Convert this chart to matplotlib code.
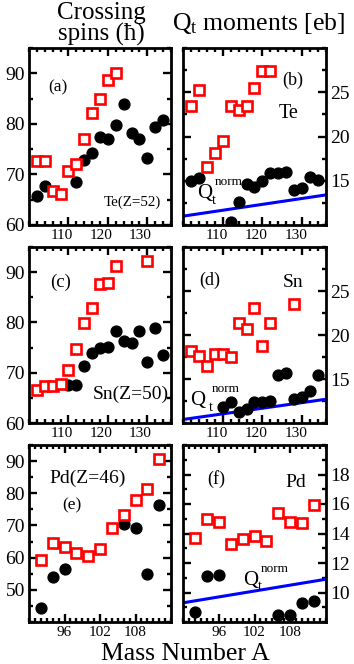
import numpy as np
import matplotlib
matplotlib.use("Agg")
import matplotlib.pyplot as plt
from matplotlib.ticker import MultipleLocator, FixedLocator
from matplotlib.transforms import ScaledTranslation

plt.rcParams['font.family'] = ['Liberation Serif', 'DejaVu Serif']
plt.rcParams['mathtext.fontset'] = 'custom'
plt.rcParams['mathtext.rm'] = 'Liberation Serif'
plt.rcParams['mathtext.it'] = 'Liberation Serif:italic'

# ---- Te (Z=52) ----
te_cross_A_circ = [102, 104, 112, 114, 116, 118, 120, 122, 124, 126, 128, 130, 132, 134]
te_cross_circ = [65.7, 67.8, 68.6, 72.9, 74.3, 77.4, 77.0, 79.8, 83.9, 78.2, 77.0, 73.2, 79.3, 80.8]
te_cross_A_sq = [102, 104, 106, 108, 110, 112, 114, 116, 118, 120, 122]
te_cross_sq = [72.7, 72.7, 66.8, 66.1, 70.7, 72.0, 77.0, 82.1, 84.9, 88.7, 90.0]

te_q_A_circ = [102, 104, 112, 114, 116, 118, 120, 122, 124, 126, 128, 130, 132, 134]
te_q_circ = [15.0, 15.3, 10.3, 12.6, 14.6, 14.3, 15.0, 15.9, 15.9, 16.0, 13.9, 14.2, 15.4, 15.1]
te_q_A_sq = [102, 104, 106, 108, 110, 112, 114, 116, 118, 120, 122]
te_q_sq = [23.4, 25.2, 16.6, 18.1, 19.5, 23.4, 23.0, 23.4, 25.5, 27.4, 27.4]
te_qnorm_A = [100, 136]
te_qnorm = [11.0, 13.4]

# ---- Sn (Z=50) ----
sn_cross_A_circ = [110, 112, 114, 116, 118, 120, 122, 124, 126, 128, 130, 132, 134]
sn_cross_circ = [67.6, 67.6, 71.4, 73.9, 74.9, 75.2, 78.3, 76.3, 75.9, 78.3, 72.2, 78.8, 73.6]
sn_cross_A_sq = [102, 104, 106, 108, 110, 112, 114, 116, 118, 120, 122, 130]
sn_cross_sq = [66.5, 67.3, 67.3, 67.8, 70.5, 74.7, 79.8, 82.8, 87.6, 87.8, 91.2, 92.2]

sn_q_A_circ = [110, 112, 114, 116, 118, 120, 122, 124, 126, 128, 130, 132, 134]
sn_q_circ = [11.8, 12.4, 11.3, 11.6, 12.4, 12.4, 12.5, 15.4, 15.7, 12.7, 13.0, 13.6, 15.4]
sn_q_A_sq = [102, 104, 106, 108, 110, 112, 114, 116, 118, 120, 122, 128]
sn_q_sq = [18.2, 17.6, 16.5, 17.8, 17.8, 17.5, 21.4, 20.7, 23.1, 18.8, 21.4, 23.5]
sn_qnorm_A = [100, 136]
sn_qnorm = [10.4, 12.7]

# ---- Pd (Z=46) ----
pd_cross_A_circ = [92, 94, 96, 106, 108, 110, 112]
pd_cross_circ = [44.3, 54.1, 56.4, 70.4, 69.1, 54.8, 76.3]
pd_cross_A_sq = [92, 94, 96, 98, 100, 102, 104, 106, 108, 110, 112]
pd_cross_sq = [59.3, 64.7, 63.2, 61.3, 60.5, 62.6, 69.3, 73.2, 78.0, 81.4, 90.5]

pd_q_A_circ = [92, 94, 96, 106, 108, 110, 112]
pd_q_circ = [8.65, 11.1, 11.2, 8.5, 8.5, 9.3, 9.4]
pd_q_A_sq = [92, 94, 96, 98, 100, 102, 104, 106, 108, 110, 112]
pd_q_sq = [13.7, 15.0, 14.8, 13.3, 13.6, 13.8, 13.5, 15.4, 14.8, 14.7, 15.9]
pd_qnorm_A = [90, 114]
pd_qnorm = [9.3, 10.9]

W, H = 354, 664
fig = plt.figure(figsize=(W / 100, H / 100), dpi=100)


def px_axes(x0, y0, x1, y1):
    return fig.add_axes([x0 / W, 1 - y1 / H, (x1 - x0) / W, (y1 - y0) / H])


def style(ax, right=False):
    for s in ax.spines.values():
        s.set_linewidth(2.0)
    ax.tick_params(which='both', direction='in', top=True, bottom=True,
                   left=True, right=True, width=1.7)
    ax.tick_params(which='major', length=5.5)
    ax.tick_params(which='minor', length=3)
    ax.tick_params(axis='x', labelsize=11, pad=3)
    ax.tick_params(axis='y', labelsize=14, pad=3)
    if right:
        ax.yaxis.tick_right()
        ax.tick_params(axis='y', which='both', left=True, right=True,
                       labelleft=False, labelright=True)


def draw(ax, Ac, vc, As, vs):
    ax.plot(Ac, vc, 'o', color='black', ms=7.8, zorder=3)
    ax.plot(As, vs, 's', mfc='white', mec='red', mew=1.9, ms=6.5, zorder=4)


def qnorm(ax, A, v, tx, ty, dt=7):
    ax.plot(A, v, color='blue', lw=2.2, zorder=2)
    ax.text(tx, ty, 'Q', transform=ax.transAxes, fontsize=15,
            ha='center', va='center')
    ax.annotate('t', (tx, ty), xycoords='axes fraction', xytext=(dt, -5),
                textcoords='offset points', fontsize=10.5, ha='center', va='center')
    ax.annotate('norm', (tx, ty), xycoords='axes fraction', xytext=(dt + 11, 8),
                textcoords='offset points', fontsize=9.5, ha='center', va='center')


def shift_xlabels(ax, dx_px):
    off = ScaledTranslation(dx_px / 100, 0, fig.dpi_scale_trans)
    for lab in ax.get_xticklabels():
        lab.set_transform(lab.get_transform() + off)


L0, L1, R0, R1 = 29, 171, 183, 326
rows = [(48, 225), (247, 423), (445, 622)]

# (a)
ax = px_axes(L0, rows[0][0], L1, rows[0][1])
draw(ax, te_cross_A_circ, te_cross_circ, te_cross_A_sq, te_cross_sq)
ax.set_xlim(100, 136); ax.set_ylim(60, 95)
ax.xaxis.set_major_locator(FixedLocator([110, 120, 130]))
ax.xaxis.set_minor_locator(MultipleLocator(2))
ax.yaxis.set_major_locator(MultipleLocator(10))
ax.yaxis.set_minor_locator(MultipleLocator(5))
style(ax)
shift_xlabels(ax, -7)
ax.text(0.2, 0.78, '(a)', transform=ax.transAxes, fontsize=12.5, ha='center', va='center')
ax.text(0.725, 0.13, 'Te(Z=52)', transform=ax.transAxes, fontsize=10.8, ha='center', va='center')

# (b)
ax = px_axes(R0, rows[0][0], R1, rows[0][1])
draw(ax, te_q_A_circ, te_q_circ, te_q_A_sq, te_q_sq)
qnorm(ax, te_qnorm_A, te_qnorm, 0.155, 0.18, dt=6)
ax.set_xlim(100, 136); ax.set_ylim(10, 30)
ax.xaxis.set_major_locator(FixedLocator([110, 120, 130]))
ax.xaxis.set_minor_locator(MultipleLocator(2))
ax.yaxis.set_major_locator(FixedLocator([15, 20, 25]))
ax.yaxis.set_minor_locator(MultipleLocator(2.5))
style(ax, right=True)
shift_xlabels(ax, -6)
ax.text(0.77, 0.82, '(b)', transform=ax.transAxes, fontsize=13, ha='center', va='center')
ax.text(0.74, 0.63, 'Te', transform=ax.transAxes, fontsize=14.5, ha='center', va='center')

# (c)
ax = px_axes(L0, rows[1][0], L1, rows[1][1])
draw(ax, sn_cross_A_circ, sn_cross_circ, sn_cross_A_sq, sn_cross_sq)
ax.set_xlim(100, 136); ax.set_ylim(60, 95)
ax.xaxis.set_major_locator(FixedLocator([110, 120, 130]))
ax.xaxis.set_minor_locator(MultipleLocator(2))
ax.yaxis.set_major_locator(MultipleLocator(10))
ax.yaxis.set_minor_locator(MultipleLocator(5))
style(ax)
shift_xlabels(ax, -7)
ax.text(0.22, 0.8, '(c)', transform=ax.transAxes, fontsize=13.5, ha='center', va='center')
ax.text(0.72, 0.16, 'Sn(Z=50)', transform=ax.transAxes, fontsize=14, ha='center', va='center')

# (d)
ax = px_axes(R0, rows[1][0], R1, rows[1][1])
draw(ax, sn_q_A_circ, sn_q_circ, sn_q_A_sq, sn_q_sq)
qnorm(ax, sn_qnorm_A, sn_qnorm, 0.105, 0.13, dt=9)
ax.set_xlim(100, 136); ax.set_ylim(10, 30)
ax.xaxis.set_major_locator(FixedLocator([110, 120, 130]))
ax.xaxis.set_minor_locator(MultipleLocator(2))
ax.yaxis.set_major_locator(FixedLocator([15, 20, 25]))
ax.yaxis.set_minor_locator(MultipleLocator(2.5))
style(ax, right=True)
shift_xlabels(ax, -6)
ax.text(0.19, 0.81, '(d)', transform=ax.transAxes, fontsize=13, ha='center', va='center')
ax.text(0.77, 0.8, 'Sn', transform=ax.transAxes, fontsize=14, ha='center', va='center')

# (e)
ax = px_axes(L0, rows[2][0], L1, rows[2][1])
draw(ax, pd_cross_A_circ, pd_cross_circ, pd_cross_A_sq, pd_cross_sq)
ax.set_xlim(90, 114); ax.set_ylim(40, 95)
ax.xaxis.set_major_locator(FixedLocator([96, 102, 108]))
ax.xaxis.set_minor_locator(MultipleLocator(1))
ax.yaxis.set_major_locator(FixedLocator([50, 60, 70, 80, 90]))
ax.yaxis.set_minor_locator(MultipleLocator(5))
style(ax)
ax.text(0.41, 0.81, 'Pd(Z=46)', transform=ax.transAxes, fontsize=14, ha='center', va='center')
ax.text(0.3, 0.66, '(e)', transform=ax.transAxes, fontsize=12.5, ha='center', va='center')

# (f)
ax = px_axes(R0, rows[2][0], R1, rows[2][1])
draw(ax, pd_q_A_circ, pd_q_circ, pd_q_A_sq, pd_q_sq)
qnorm(ax, pd_qnorm_A, pd_qnorm, 0.47, 0.237, dt=7)
ax.set_xlim(90, 114); ax.set_ylim(8, 20)
ax.xaxis.set_major_locator(FixedLocator([96, 102, 108]))
ax.xaxis.set_minor_locator(MultipleLocator(1))
ax.yaxis.set_major_locator(FixedLocator([10, 12, 14, 16, 18]))
ax.yaxis.set_minor_locator(MultipleLocator(1))
style(ax, right=True)
ax.text(0.23, 0.81, '(f)', transform=ax.transAxes, fontsize=13, ha='center', va='center')
ax.text(0.79, 0.79, 'Pd', transform=ax.transAxes, fontsize=14, ha='center', va='center')

fig.text(101 / W, 1 - 24 / H, 'Crossing\nspins (\u0127)', fontsize=18,
         ha='center', va='center', linespacing=0.92)
fig.text(259 / W, 1 - 23 / H, r'Q$_\mathrm{t}$ moments [eb]', fontsize=18.5,
         ha='center', va='center')
fig.text(185 / W, 1 - 660 / H, 'Mass Number A', fontsize=18.5,
         ha='center', va='baseline')

fig.savefig('out.png', dpi=100)
